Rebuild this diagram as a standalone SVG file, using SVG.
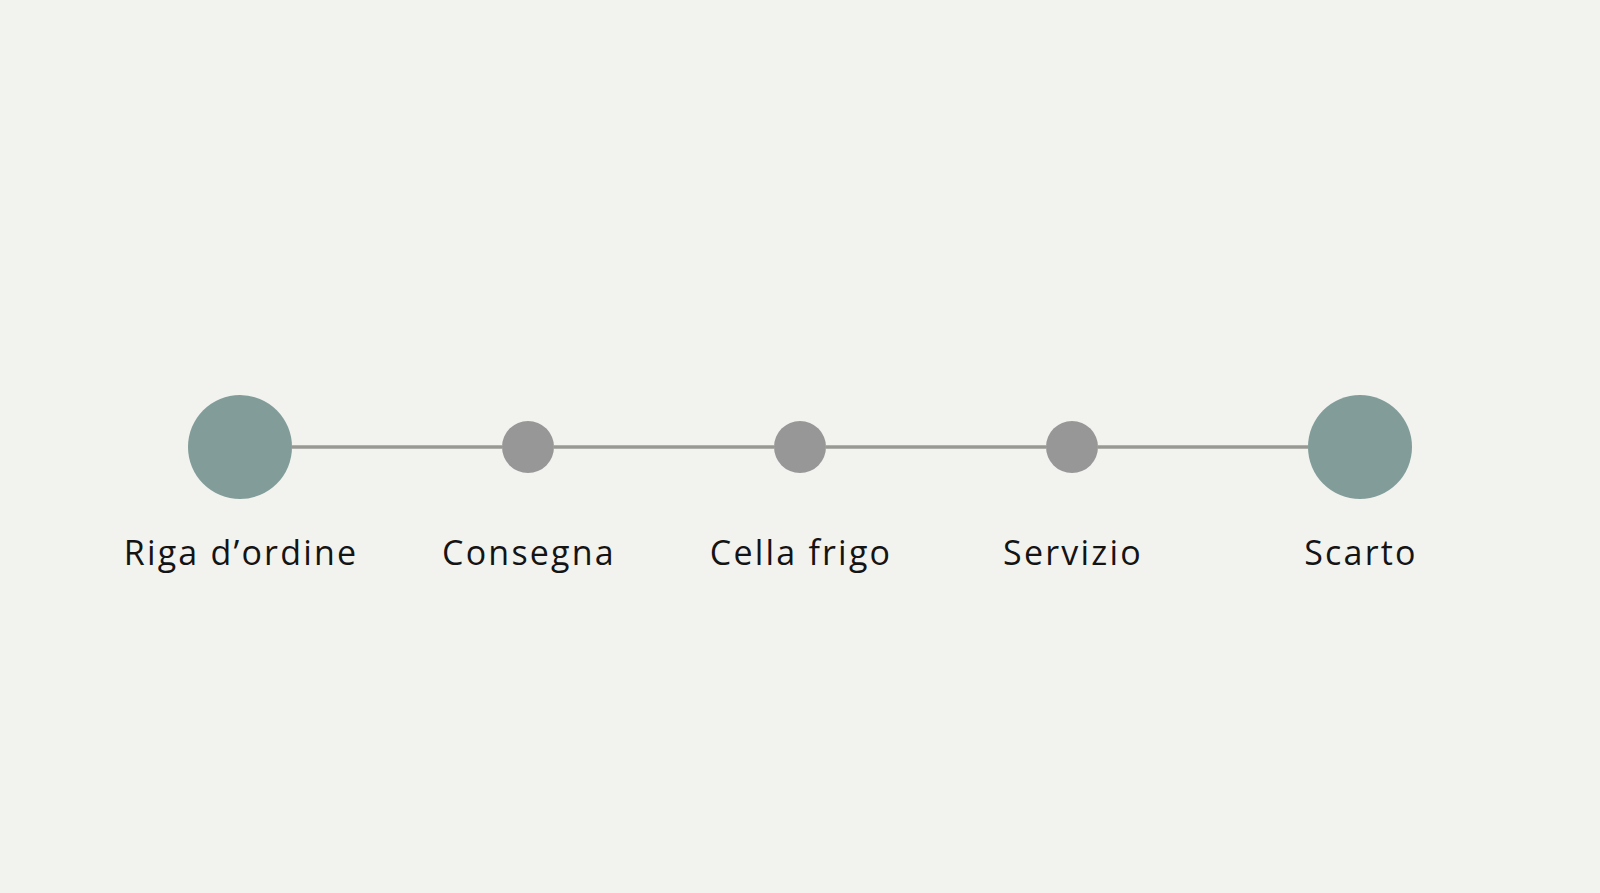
<svg xmlns="http://www.w3.org/2000/svg" width="1600" height="893" viewBox="0 0 1600 893">
<style>
.bg{fill:#f2f3ef}
.edge{stroke:#999994;stroke-width:3.5;fill:none}
.major{fill:#829d99}
.minor{fill:#979797}
.lbl{font-family:"Open Sans","Liberation Sans",sans-serif;font-size:34px;letter-spacing:2.2px;fill:#141414;text-anchor:middle}
</style>
<rect class="bg" x="0" y="0" width="1600" height="893"/>
<g id="connectors">
<line class="edge" x1="292" y1="447" x2="502" y2="447"/>
<line class="edge" x1="554" y1="447" x2="774" y2="447"/>
<line class="edge" x1="826" y1="447" x2="1046" y2="447"/>
<line class="edge" x1="1098" y1="447" x2="1308" y2="447"/>
</g>
<g id="node-riga"><circle class="major" cx="240" cy="447" r="52"/><text class="lbl" x="241" y="565">Riga d’ordine</text></g>
<g id="node-consegna"><circle class="minor" cx="528" cy="447" r="26"/><text class="lbl" x="529" y="565">Consegna</text></g>
<g id="node-cella"><circle class="minor" cx="800" cy="447" r="26"/><text class="lbl" x="801" y="565">Cella frigo</text></g>
<g id="node-servizio"><circle class="minor" cx="1072" cy="447" r="26"/><text class="lbl" x="1073" y="565">Servizio</text></g>
<g id="node-scarto"><circle class="major" cx="1360" cy="447" r="52"/><text class="lbl" x="1361" y="565">Scarto</text></g>
</svg>
